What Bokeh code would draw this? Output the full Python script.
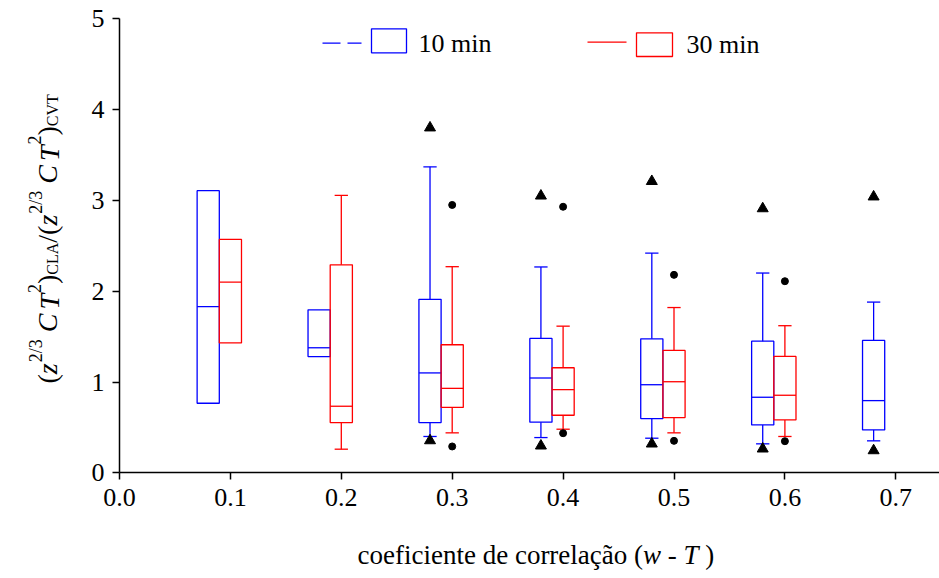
import math
from bokeh.plotting import figure
from bokeh.models import (Range1d, FixedTicker, PrintfTickFormatter, Label,
                          BoxAnnotation, Arrow)
from bokeh.embed import file_html
from bokeh.resources import INLINE

# ---------------- data ----------------
corr = [0.1, 0.2, 0.3, 0.4, 0.5, 0.6, 0.7]

# 10 min series (blue)
b_q1 = [0.766, 1.28, 0.553, 0.557, 0.597, 0.527, 0.472]
b_med = [1.83, 1.377, 1.10, 1.044, 0.97, 0.832, 0.795]
b_q3 = [3.107, 1.795, 1.91, 1.48, 1.476, 1.45, 1.458]
b_wlo = [None, None, 0.40, 0.388, 0.381, 0.319, 0.352]
b_whi = [None, None, 3.37, 2.267, 2.42, 2.20, 1.88]
b_out_lo = [None, None, 0.355, 0.297, 0.319, 0.264, 0.245]
b_out_hi = [None, None, 3.80, 3.05, 3.21, 2.91, 3.04]

# 30 min series (red)
r_corr = [0.1, 0.2, 0.3, 0.4, 0.5, 0.6]
r_q1 = [1.43, 0.553, 0.72, 0.634, 0.608, 0.582]
r_med = [2.10, 0.733, 0.93, 0.916, 1.003, 0.854]
r_q3 = [2.57, 2.29, 1.41, 1.157, 1.348, 1.282]
r_wlo = [None, 0.26, 0.44, 0.48, 0.44, 0.40]
r_whi = [None, 3.055, 2.27, 1.615, 1.82, 1.62]
r_out_lo = [None, None, 0.29, 0.436, 0.352, 0.348]
r_out_hi = [None, None, 2.95, 2.93, 2.18, 2.11]

x_ticks = [0.0, 0.1, 0.2, 0.3, 0.4, 0.5, 0.6, 0.7]
y_ticks = [0, 1, 2, 3, 4, 5]

# ---------------- styling / geometry ----------------
FONT = "Liberation Serif"
BLUE = "#0000ff"
RED = "#ff0000"
LW = 1.3
BOX_W = 0.02
CAP_HW = 0.006
B_OFF = -0.02   # blue boxes sit left of the tick, red boxes on the tick

W, H = 939, 578
X0_PX, Y0_PX = 119.0, 472.3     # canvas pixel of the data origin
PX_X, PX_Y = 1109.0, 90.8       # pixels per data unit
TXT_FIX = 9                     # baseline correction for Label text

p = figure(width=W, height=H, output_backend="svg", toolbar_location=None,
           x_range=Range1d(-X0_PX / PX_X, (W - X0_PX) / PX_X),
           y_range=Range1d(-(H - Y0_PX) / PX_Y, Y0_PX / PX_Y),
           min_border=0)
p.outline_line_color = None
p.grid.grid_line_color = None
p.background_fill_color = "white"
p.border_fill_color = "white"

for ax in (p.xaxis, p.yaxis):
    ax.fixed_location = 0
    ax.axis_line_color = "black"
    ax.axis_line_width = 1.5
    ax.major_tick_line_color = "black"
    ax.major_tick_line_width = 1.5
    ax.major_tick_out = 7
    ax.major_tick_in = 0
    ax.minor_tick_line_color = None
    ax.major_label_text_font = FONT
    ax.major_label_text_font_size = "26px"
    ax.major_label_text_color = "black"

p.xaxis.ticker = FixedTicker(ticks=x_ticks)
p.xaxis.formatter = PrintfTickFormatter(format="%.1f")
p.xaxis.major_label_standoff = 9
p.xaxis.bounds = (0, (W - X0_PX) / PX_X)
p.yaxis.ticker = FixedTicker(ticks=y_ticks)
p.yaxis.major_label_standoff = 8
p.yaxis.bounds = (0, 5)


def draw_series(xs, q1, med, q3, wlo, whi, color, off):
    cx = [x + off for x in xs]
    p.quad(left=[c - BOX_W / 2 for c in cx], right=[c + BOX_W / 2 for c in cx],
           bottom=q1, top=q3, fill_color=None, line_color=color, line_width=LW)
    p.segment(x0=[c - BOX_W / 2 for c in cx], x1=[c + BOX_W / 2 for c in cx],
              y0=med, y1=med, line_color=color, line_width=LW)
    for c, a, lo, b, hi in zip(cx, q1, wlo, q3, whi):
        if lo is not None:
            p.segment(x0=[c], x1=[c], y0=[a], y1=[lo], line_color=color, line_width=LW)
            p.segment(x0=[c - CAP_HW], x1=[c + CAP_HW], y0=[lo], y1=[lo],
                      line_color=color, line_width=LW)
        if hi is not None:
            p.segment(x0=[c], x1=[c], y0=[b], y1=[hi], line_color=color, line_width=LW)
            p.segment(x0=[c - CAP_HW], x1=[c + CAP_HW], y0=[hi], y1=[hi],
                      line_color=color, line_width=LW)


draw_series(corr, b_q1, b_med, b_q3, b_wlo, b_whi, BLUE, B_OFF)
draw_series(r_corr, r_q1, r_med, r_q3, r_wlo, r_whi, RED, 0.0)

# outliers
bx, by = [], []
for x, lo, hi in zip(corr, b_out_lo, b_out_hi):
    for v in (lo, hi):
        if v is not None:
            bx.append(x + B_OFF)
            by.append(v)
p.scatter(bx, by, marker="triangle", size=11, fill_color="black", line_color="black")

rx, ry = [], []
for x, lo, hi in zip(r_corr, r_out_lo, r_out_hi):
    for v in (lo, hi):
        if v is not None:
            rx.append(x)
            ry.append(v)
p.scatter(rx, ry, marker="circle", size=7, fill_color="black", line_color="black")


# ---------------- text helpers ----------------
W_REG = {' ': 250, '(': 333, ')': 333, '-': 333, '.': 250, '/': 278,
         'a': 444, 'c': 444, 'd': 500, 'e': 444, 'f': 333, 'i': 278, 'l': 278,
         'm': 778, 'n': 500, 'o': 500, 'r': 333, 't': 278, 'ç': 444, 'ã': 444,
         'A': 722, 'C': 667, 'L': 611, 'T': 611, 'V': 722}
W_IT = {'w': 667, 'T': 556, 'z': 389, 'C': 667}


def text_w(s, size, italic):
    tbl = W_IT if italic else W_REG
    return sum(tbl.get(ch, W_REG.get(ch, 500)) for ch in s) / 1000.0 * size


def sx(cx):
    return cx


def sy(cy):
    return H - cy


def add_label(text, x, y, size, italic=False, angle=0.0):
    p.add_layout(Label(x=x, y=y, x_units="screen", y_units="screen", text=text,
                       angle=angle, text_font=FONT, text_font_size=f"{size}px",
                       text_font_style="italic" if italic else "normal",
                       text_color="black", text_align="left",
                       text_baseline="alphabetic"))


def run_text(pieces, start, fixed, vertical):
    """pieces: (text, size, italic, shift_up, gap_before_px)"""
    pos = start
    for t, size, it, sh, gap in pieces:
        pos += gap
        if vertical:
            add_label(t, fixed - sh, pos, size, it, angle=math.pi / 2)
        else:
            add_label(t, pos, fixed + sh, size, it)
        pos += text_w(t, size, it)


# y-axis label (rotated, reads bottom to top); baseline at canvas x = 55
F, S, SS = 28, 18, 16
half = [("(", F, False, 0, 0), ("z", F, True, 0, 0), ("2/3", S, False, 12, 1),
        ("C", F, True, 0, 7), ("T", F, True, -2, 4), ("2", S, False, 13, 1),
        (")", F, False, 0, 0)]
ylab = (half + [("CLA", SS, False, -5, 0), ("/", F, False, 0, 0)]
        + half + [("CVT", SS, False, -5, 0)])
run_text(ylab, sy(383), sx(56) - TXT_FIX, vertical=True)

# x-axis label; baseline at canvas y = 563
FX = 27
sp = text_w(" ", FX, False)
xlab = [("coeficiente de correlação (", FX, False, 0, 0), ("w", FX, True, 0, 0),
        ("-", FX, False, 0, sp), ("T", FX, True, 0, sp), (")", FX, False, 0, sp)]
run_text(xlab, sx(357), sy(563) + TXT_FIX, vertical=False)

# ---------------- legend ----------------
p.add_layout(Arrow(end=None, x_start=sx(322), y_start=sy(42.7), x_end=sx(361), y_end=sy(42.7),
                   start_units="screen", end_units="screen", line_color=BLUE,
                   line_width=LW, line_dash="18 7"))
p.add_layout(BoxAnnotation(left=sx(371), right=sx(406), top=sy(28.3), bottom=sy(52.3),
                           left_units="screen", right_units="screen",
                           top_units="screen", bottom_units="screen",
                           fill_alpha=0, line_color=BLUE, line_alpha=1, line_width=LW))
add_label("10 min", sx(418), sy(52) + TXT_FIX, 26)

p.add_layout(Arrow(end=None, x_start=sx(587), y_start=sy(41.7), x_end=sx(626), y_end=sy(41.7),
                   start_units="screen", end_units="screen", line_color=RED,
                   line_width=LW))
p.add_layout(BoxAnnotation(left=sx(636), right=sx(672), top=sy(32.3), bottom=sy(56),
                           left_units="screen", right_units="screen",
                           top_units="screen", bottom_units="screen",
                           fill_alpha=0, line_color=RED, line_alpha=1, line_width=LW))
add_label("30 min", sx(686), sy(53) + TXT_FIX, 26)

open("out.html", "w").write(file_html(p, INLINE))
